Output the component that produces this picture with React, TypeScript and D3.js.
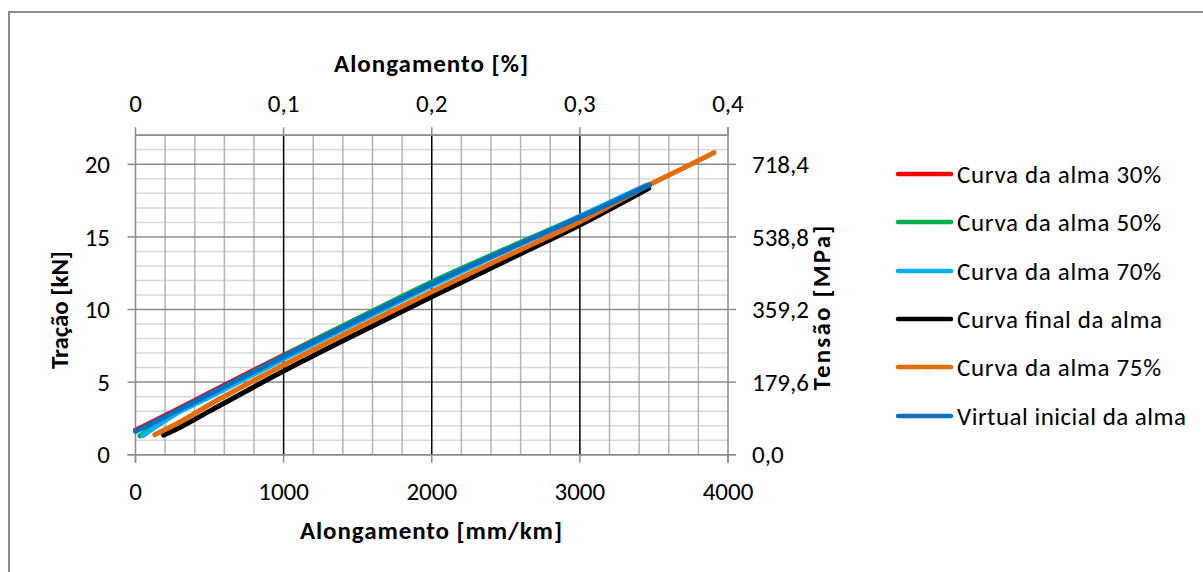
import React from "react";
import * as d3 from "d3";

// ---- data ----
const seriesNames = [
  "Curva da alma 30%",
  "Curva da alma 50%",
  "Curva da alma 70%",
  "Curva final da alma",
  "Curva da alma 75%",
  "Virtual inicial da alma",
];
const seriesColors = ["#ff0000", "#00b050", "#00b0f0", "#000000", "#e46c0a", "#0070c0"];

const alma30X = [0, 250, 500, 1000, 1500, 2000, 2500, 3000, 3440];
const alma30Y = [1.68, 2.96, 4.27, 6.86, 9.36, 11.84, 14.15, 16.38, 18.5];
const alma50X = [30, 250, 500, 1000, 1500, 2000, 2500, 3000, 3450];
const alma50Y = [1.3, 2.75, 4.1, 6.8, 9.38, 11.9, 14.18, 16.4, 18.5];
const alma70X = [50, 250, 500, 1000, 1500, 2000, 2500, 3000, 3460];
const alma70Y = [1.32, 2.68, 3.98, 6.6, 9.15, 11.65, 14.05, 16.42, 18.6];
const finalX = [190, 300, 500, 1000, 1500, 2000, 2500, 3000, 3465];
const finalY = [1.35, 1.88, 3.0, 5.76, 8.35, 10.88, 13.35, 15.82, 18.35];
const alma75X = [130, 300, 500, 1000, 1500, 2000, 2500, 3000, 3470, 3700, 3905];
const alma75Y = [1.38, 2.25, 3.45, 6.18, 8.75, 11.23, 13.65, 16.05, 18.6, 19.75, 20.8];
const virtualX = [0, 250, 500, 1000, 1500, 2000, 2500, 3000, 3470];
const virtualY = [1.6, 2.88, 4.18, 6.76, 9.28, 11.78, 14.1, 16.35, 18.57];

const seriesX = [alma30X, alma50X, alma70X, finalX, alma75X, virtualX];
const seriesY = [alma30Y, alma50Y, alma70Y, finalY, alma75Y, virtualY];

const bottomTicks = [0, 1000, 2000, 3000, 4000];
const topTicks = [0, 0.1, 0.2, 0.3, 0.4];
const leftTicks = [0, 5, 10, 15, 20];
const rightTicks = [0, 179.6, 359.2, 538.8, 718.4];
const xMinorStep = 200;
const yMinorStep = 1;
const tensionFactor = 35.92;

const FONT = "Carlito, Lato, 'Open Sans', sans-serif";

export default function App() {
  const W = 1203;
  const H = 572;
  const left = 135.5, right = 728, top = 135.3, bottom = 454.7;
  const x = d3.scaleLinear().domain([0, 4000]).range([left, right]);
  const xTop = d3.scaleLinear().domain([0, 0.4]).range([left, right]);
  const y = d3.scaleLinear().domain([0, 22]).range([bottom, top]);
  const yRight = d3.scaleLinear().domain([0, 22 * tensionFactor]).range([bottom, top]);

  const xMinor = d3.range(0, 4000 + 1, xMinorStep);
  const yMinor = d3.range(0, 22 + 0.001, yMinorStep);

  const line = d3
    .line<[number, number]>()
    .x((d) => x(d[0]))
    .y((d) => y(d[1]))
    .curve(d3.curveMonotoneX);

  const comma = (v: number, digits: number) => v.toFixed(digits).replace(".", ",");

  const legendRows = [174, 222, 271, 319, 367, 416];
  const legendLengths = [204, 204, 204, 205, 204, 229];
  const TICK_FS = 25;

  return (
    <svg
      width={W}
      height={H}
      style={{ position: "absolute", left: 0, top: 0, background: "#fff" }}
      fontFamily={FONT}
    >
      <rect x={0} y={0} width={W} height={H} fill="#fff" />
      <rect x={9} y={12} width={W + 20} height={H + 20} fill="none" stroke="#8c8c8c" strokeWidth={2} />

      {/* horizontal minor gridlines */}
      {yMinor.filter((v) => v % 5 !== 0).map((v) => (
        <line key={"hm" + v} x1={left} x2={right} y1={y(v)} y2={y(v)} stroke="#d9d9d9" strokeWidth={1.5} />
      ))}
      {/* vertical minor gridlines */}
      {xMinor.filter((v) => v % 1000 !== 0).map((v) => (
        <line key={"vm" + v} x1={x(v)} x2={x(v)} y1={top} y2={bottom} stroke="#b4b4b4" strokeWidth={1.5} />
      ))}
      {/* horizontal major gridlines */}
      {[...leftTicks, 22].map((v) => (
        <line key={"hM" + v} x1={left} x2={right} y1={y(v)} y2={y(v)} stroke="#8c8c8c" strokeWidth={1.5} />
      ))}
      {/* vertical major gridlines (secondary axis) */}
      {topTicks.slice(1, -1).map((v) => (
        <line key={"vM" + v} x1={xTop(v)} x2={xTop(v)} y1={top} y2={bottom} stroke="#000" strokeWidth={1.5} />
      ))}
      {/* axis lines */}
      <line x1={left} x2={left} y1={top} y2={bottom + 8} stroke="#8c8c8c" strokeWidth={1.5} />
      <line x1={right} x2={right} y1={top - 8} y2={bottom + 8} stroke="#8c8c8c" strokeWidth={1.5} />
      <line x1={left - 8} x2={right + 8} y1={bottom} y2={bottom} stroke="#8c8c8c" strokeWidth={1.5} />
      <line x1={left} x2={right} y1={top} y2={top} stroke="#8c8c8c" strokeWidth={1.5} />

      {/* tick marks */}
      {leftTicks.map((v) => (
        <line key={"lt" + v} x1={left - 8} x2={left} y1={y(v)} y2={y(v)} stroke="#8c8c8c" strokeWidth={1.5} />
      ))}
      {rightTicks.map((v) => (
        <line key={"rt" + v} x1={right} x2={right + 8} y1={yRight(v)} y2={yRight(v)} stroke="#8c8c8c" strokeWidth={1.5} />
      ))}
      {bottomTicks.map((v) => (
        <line key={"bt" + v} x1={x(v)} x2={x(v)} y1={bottom} y2={bottom + 8} stroke="#8c8c8c" strokeWidth={1.5} />
      ))}
      {topTicks.map((v) => (
        <line key={"tt" + v} x1={xTop(v)} x2={xTop(v)} y1={top - 8} y2={top} stroke="#8c8c8c" strokeWidth={1.5} />
      ))}

      {/* series */}
      {seriesNames.map((name, i) => {
        const pts = seriesX[i].map((xv, j) => [xv, seriesY[i][j]] as [number, number]);
        return (
          <path
            key={name}
            d={line(pts) || ""}
            fill="none"
            stroke={seriesColors[i]}
            strokeWidth={5}
            strokeLinecap="round"
            strokeLinejoin="round"
          />
        );
      })}

      {/* tick labels */}
      {leftTicks.map((v) => (
        <text key={"ll" + v} x={110} y={y(v)} dy="0.35em" textAnchor="end" fontSize={TICK_FS} fill="#000">
          {String(v)}
        </text>
      ))}
      {rightTicks.map((v) => (
        <text key={"rl" + v} x={752} y={yRight(v)} dy="0.35em" textAnchor="start" fontSize={TICK_FS} fill="#000">
          {comma(v, 1)}
        </text>
      ))}
      {bottomTicks.map((v) => (
        <text key={"bl" + v} x={x(v)} y={491} dy="0.35em" textAnchor="middle" fontSize={TICK_FS} fill="#000">
          {String(v)}
        </text>
      ))}
      {topTicks.map((v) => (
        <text key={"tl" + v} x={xTop(v)} y={103} dy="0.35em" textAnchor="middle" fontSize={TICK_FS} fill="#000">
          {v === 0 ? "0" : comma(v, 1)}
        </text>
      ))}

      {/* axis titles */}
      <text x={431} y={63} dy="0.35em" textAnchor="middle" fontSize={25} fontWeight="bold" fill="#000" textLength={194} lengthAdjust="spacing">
        Alongamento [%]
      </text>
      <text x={431} y={530} dy="0.35em" textAnchor="middle" fontSize={25} fontWeight="bold" fill="#000" textLength={262} lengthAdjust="spacing">
        Alongamento [mm/km]
      </text>
      <text transform="translate(59,310) rotate(-90)" dy="0.35em" textAnchor="middle" fontSize={25} fontWeight="bold" fill="#000" textLength={118} lengthAdjust="spacing">
        Tração [kN]
      </text>
      <text transform="translate(821,308) rotate(-90)" dy="0.35em" textAnchor="middle" fontSize={25} fontWeight="bold" fill="#000" textLength={165} lengthAdjust="spacing">
        Tensão [MPa]
      </text>

      {/* legend */}
      {seriesNames.map((name, i) => (
        <g key={"lg" + name}>
          <line x1={898} x2={951} y1={legendRows[i]} y2={legendRows[i]} stroke={seriesColors[i]} strokeWidth={4.5} strokeLinecap="round" />
          <text x={957} y={legendRows[i]} dy="0.35em" fontSize={TICK_FS} fill="#000" textLength={legendLengths[i]} lengthAdjust="spacing">
            {name}
          </text>
        </g>
      ))}
    </svg>
  );
}
